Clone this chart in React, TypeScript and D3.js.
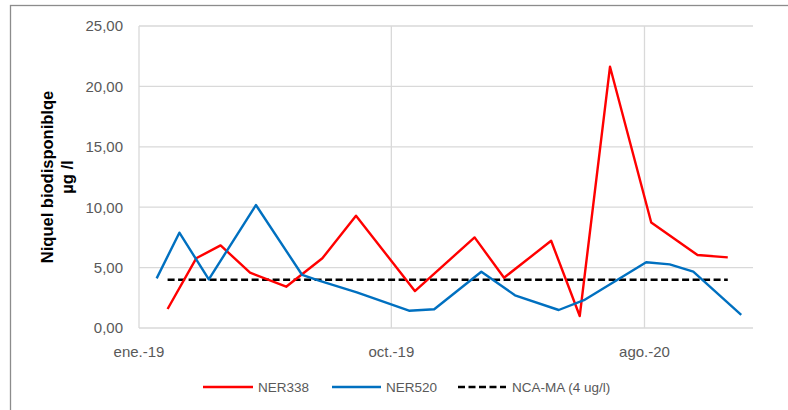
import React from "react";
import * as d3 from "d3";

const redDates = ["2019-02-04","2019-03-10","2019-04-08","2019-05-13","2019-06-25","2019-08-07","2019-09-16","2019-11-25","2020-02-04","2020-03-10","2020-05-05","2020-06-08","2020-07-14","2020-09-01","2020-10-26","2020-12-01"];
const redValues = [1.57,5.77,6.84,4.58,3.42,5.77,9.3,3.06,7.5,4.16,7.22,0.99,21.63,8.73,6.04,5.85];

const blueDates = ["2019-01-22","2019-02-18","2019-03-25","2019-05-20","2019-07-14","2019-08-03","2019-09-17","2019-11-18","2019-12-18","2020-02-12","2020-03-23","2020-05-14","2020-06-13","2020-08-26","2020-09-23","2020-10-21","2020-12-17"];
const blueValues = [4.11,7.89,4.03,10.18,4.39,3.92,2.95,1.43,1.55,4.66,2.71,1.49,2.3,5.44,5.27,4.66,1.08];

const ncaLimit = 4;
const yTicks = [0, 5, 10, 15, 20, 25];
const xTickDates = ["2019-01-01", "2019-10-28", "2020-08-24"];
const monthNames = ["ene.","feb.","mar.","abr.","may.","jun.","jul.","ago.","sept.","oct.","nov.","dic."];
const seriesNames = ["NER338", "NER520", "NCA-MA (4 ug/l)"];

const parse = d3.timeParse("%Y-%m-%d");
const FONT = "'Liberation Sans', Arial, sans-serif";

export default function App() {
  const W = 788, H = 410;
  const left = 139, right = 753, top = 26, bottom = 328;
  const x = d3.scaleTime().domain([parse("2019-01-01")!, parse("2020-12-31")!]).range([left, right]);
  const y = d3.scaleLinear().domain([0, 25]).range([bottom, top]);

  const line = d3.line<[Date, number]>().x(d => x(d[0])).y(d => y(d[1]));
  const red: [Date, number][] = redDates.map((d, i) => [parse(d)!, redValues[i]]);
  const blue: [Date, number][] = blueDates.map((d, i) => [parse(d)!, blueValues[i]]);
  const nca: [Date, number][] = [[parse(redDates[0])!, ncaLimit], [parse(redDates[redDates.length - 1])!, ncaLimit]];

  const fmtY = (v: number) => v.toFixed(2).replace(".", ",");
  const fmtX = (d: Date) => `${monthNames[d.getMonth()]}-${String(d.getFullYear()).slice(2)}`;

  const grid = "#d9d9d9";
  const textCol = "#595959";
  const legendY = 387;

  return (
    <svg width={W} height={H} style={{ position: "absolute", left: 0, top: 0, background: "#fff" }} fontFamily={FONT}>
      <rect x={0} y={0} width={W} height={H} fill="#fff" />
      <rect x={10.5} y={5.5} width={W + 20} height={H + 20} fill="none" stroke="#8c8c8c" strokeWidth={1.3} />
      {yTicks.map(t => (
        <g key={t}>
          <line x1={left} x2={right} y1={y(t)} y2={y(t)} stroke={grid} strokeWidth={1.3} />
          <text x={123} y={y(t)} dy="0.36em" textAnchor="end" fontSize={15} fill={textCol}>{fmtY(t)}</text>
        </g>
      ))}
      {xTickDates.map(s => {
        const d = parse(s)!;
        return (
          <g key={s}>
            <line x1={x(d)} x2={x(d)} y1={top} y2={bottom} stroke={grid} strokeWidth={1.3} />
            <text x={x(d)} y={357} textAnchor="middle" fontSize={15} fill={textCol}>{fmtX(d)}</text>
          </g>
        );
      })}
      <path d={line(nca)!} fill="none" stroke="#000" strokeWidth={2.6} strokeDasharray="7,3.5" />
      <path d={line(red)!} fill="none" stroke="#ff0000" strokeWidth={2.4} strokeLinejoin="round" />
      <path d={line(blue)!} fill="none" stroke="#0070c0" strokeWidth={2.4} strokeLinejoin="round" />
      <text transform={`translate(47,177) rotate(-90)`} textAnchor="middle" dy="0.36em" fontSize={16.5} fontWeight="bold" fill="#000">Niquel biodisponiblqe</text>
      <text transform={`translate(67,177) rotate(-90)`} textAnchor="middle" dy="0.36em" fontSize={16.5} fontWeight="bold" fill="#000">µg /l</text>
      <g>
        <line x1={203} x2={253} y1={legendY} y2={legendY} stroke="#ff0000" strokeWidth={2.4} />
        <text x={258} y={legendY} dy="0.36em" fontSize={13.5} fill={textCol}>{seriesNames[0]}</text>
        <line x1={332} x2={381} y1={legendY} y2={legendY} stroke="#0070c0" strokeWidth={2.4} />
        <text x={386} y={legendY} dy="0.36em" fontSize={13.5} fill={textCol}>{seriesNames[1]}</text>
        <line x1={458} x2={506} y1={legendY} y2={legendY} stroke="#000" strokeWidth={2.6} strokeDasharray="7,3.5" />
        <text x={512} y={legendY} dy="0.36em" fontSize={13.5} fill={textCol}>{seriesNames[2]}</text>
      </g>
    </svg>
  );
}
